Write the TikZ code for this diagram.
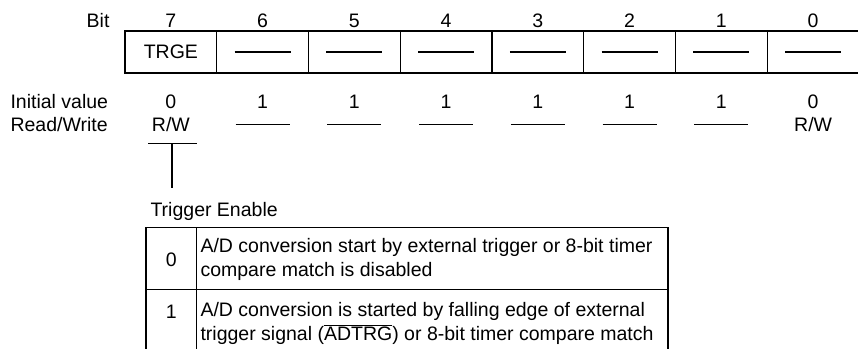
\documentclass[tikz,border=0pt]{standalone}
\usepackage{fontspec}
\setmainfont{Liberation Sans}
\begin{document}
\begin{tikzpicture}[x=1pt,y=-1pt,line width=1.1pt,
  lbl/.style={inner sep=0pt,anchor=base,font=\fontsize{19.5}{23}\selectfont},
  lblw/.style={lbl,anchor=base west},
  cellbox/.style={draw,line width=1.1pt,minimum width=91.75pt,minimum height=42pt,inner sep=0pt,font=\fontsize{19.5}{23}\selectfont},
  dashrule/.style={inner sep=0pt,anchor=center},
  tline/.style={line width=1.1pt}]
\useasboundingbox (0,0) rectangle (858,348);
% header labels
\node[lbl,anchor=base east] (bitlbl) at (110,27) {Bit};
\node[lblw] (ivlbl) at (10,108) {Initial value};
\node[lblw] (rwlbl) at (10,131) {Read/Write};
% register cells
\foreach \b/\k in {7/0,6/1,5/2,4/3,3/4,2/5,1/6,0/7}{
  \pgfmathsetmacro{\cx}{125+91.75*(\k+0.5)}
  \node[lbl] (b\b) at (\cx,27) {\b};
}
\node[cellbox] (cell7) at (170.875,52) {TRGE};
\foreach \b/\k in {6/1,5/2,4/3,3/4,2/5,1/6,0/7}{
  \pgfmathsetmacro{\cx}{125+91.75*(\k+0.5)}
  \node[cellbox] (cell\b) at (\cx,52) {\rule{56pt}{1.1pt}};
}
% initial values / read-write
\node[lbl] (iv7) at (170.875,108) {0};
\node[lbl] (rw7) at (170.875,131) {R/W};
\foreach \b/\k in {6/1,5/2,4/3,3/4,2/5,1/6}{
  \pgfmathsetmacro{\cx}{125+91.75*(\k+0.5)}
  \node[lbl] (iv\b) at (\cx,108) {1};
  \node[dashrule] (rw\b) at (\cx,124.3) {\rule{54pt}{1.1pt}};
}
\node[lbl] (iv0) at (813.125,108) {0};
\node[lbl] (rw0) at (813.125,131) {R/W};
% T connector
\coordinate (tl) at (148,143.5);
\coordinate (tr) at (197,143.5);
\coordinate (tm) at (172,143.5);
\coordinate (te) at (172,188);
\draw[tline] (tl) -- (tr);
\draw[tline] (tm) -- (te);
% description
\node[lblw] (tetitle) at (150,216) {Trigger Enable};
\draw[line width=1.1pt] (146,227.3) rectangle (668,351.3);
\draw[line width=1.1pt] (196.7,227.3) -- (196.7,351.3);
\draw[line width=1.1pt] (146,289.3) -- (668,289.3);
\node[lbl,anchor=center] (v0) at (171.3,260) {0};
\node[lbl,anchor=center] (v1) at (171.3,312) {1};
\node[lblw] (d0a) at (200,252.7) {A/D conversion start by external trigger or 8-bit timer};
\node[lblw] (d0b) at (200,276.7) {compare match is disabled};
\node[lblw] (d1a) at (200,316.7) {A/D conversion is started by falling edge of external};
\node[lblw] (d1b) at (200,340.5) {trigger signal ($\overline{\hbox{ADTRG}}$) or 8-bit timer compare match};
\end{tikzpicture}
\end{document}
